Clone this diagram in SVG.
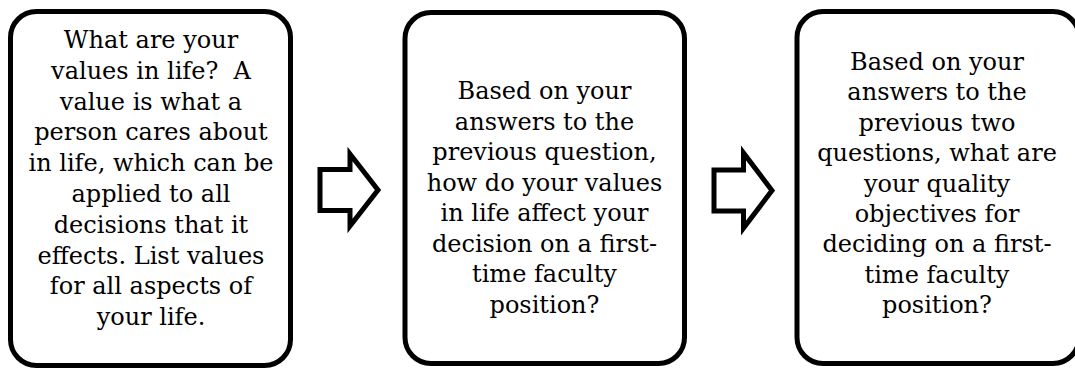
<svg xmlns="http://www.w3.org/2000/svg" width="1075" height="368" viewBox="0 0 1075 368">
  <style>
    .box { fill: #ffffff; stroke: #000000; stroke-width: 5; }
    .arrow { fill: #ffffff; stroke: #000000; stroke-width: 5; stroke-linejoin: miter; stroke-miterlimit: 10; }
    .label { font-family: "DejaVu Serif", "Liberation Serif", serif; font-size: 24px; fill: #000000; text-anchor: middle; }
  </style>
  <rect width="1075" height="368" fill="#ffffff"/>

  <!-- step 1: values in life -->
  <g id="node-values">
    <rect class="box" x="10.5" y="11.5" width="280" height="354" rx="26" ry="26"/>
    <text class="label"><tspan x="151" y="48">What are your</tspan><tspan x="151" y="78.8">values in life?&#160; A</tspan><tspan x="151" y="109.6">value is what a</tspan><tspan x="151" y="140.4">person cares about</tspan><tspan x="151" y="171.2">in life, which can be</tspan><tspan x="151" y="202">applied to all</tspan><tspan x="151" y="232.8">decisions that it</tspan><tspan x="151" y="263.6">effects. List values</tspan><tspan x="151" y="294.4">for all aspects of</tspan><tspan x="151" y="325.2">your life.</tspan></text>
  </g>

  <!-- step 2: how values affect the decision -->
  <g id="node-decision">
    <rect class="box" x="405" y="12.5" width="279.5" height="351" rx="26" ry="26"/>
    <text class="label"><tspan x="544.5" y="99">Based on your</tspan><tspan x="544.5" y="129.5">answers to the</tspan><tspan x="544.5" y="160">previous question,</tspan><tspan x="544.5" y="190.5">how do your values</tspan><tspan x="544.5" y="221">in life affect your</tspan><tspan x="544.5" y="251.5">decision on a first-</tspan><tspan x="544.5" y="282">time faculty</tspan><tspan x="544.5" y="312.5">position?</tspan></text>
  </g>

  <!-- step 3: quality objectives (right edge runs past the canvas) -->
  <g id="node-objectives">
    <rect class="box" x="797" y="11.5" width="282" height="352" rx="26" ry="26"/>
    <text class="label"><tspan x="937" y="70">Based on your</tspan><tspan x="937" y="100.4">answers to the</tspan><tspan x="937" y="130.8">previous two</tspan><tspan x="937" y="161.2">questions, what are</tspan><tspan x="937" y="191.6">your quality</tspan><tspan x="937" y="222">objectives for</tspan><tspan x="937" y="252.4">deciding on a first-</tspan><tspan x="937" y="282.8">time faculty</tspan><tspan x="937" y="313.2">position?</tspan></text>
  </g>

  <!-- block arrows between steps -->
  <g id="connectors">
    <polygon class="arrow" points="320,169.5 350,169.5 350,154 378,190 350,226 350,210.5 320,210.5"/>
    <polygon class="arrow" points="714,170 743.5,170 743.5,153 772,190.5 743.5,228 743.5,211 714,211"/>
  </g>
</svg>
